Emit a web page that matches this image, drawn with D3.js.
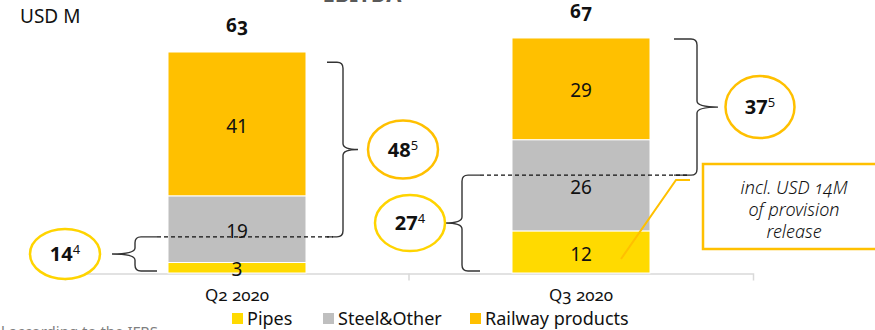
<!DOCTYPE html>
<html>
<head>
<meta charset="utf-8">
<script src="https://cdn.jsdelivr.net/npm/d3@7"></script>
<style>
  html, body { margin: 0; padding: 0; background: #fff; }
  svg { display: block; font-family: "Noto Sans", "Open Sans", sans-serif; }
  .onum { font-variant-numeric: oldstyle-nums; }
</style>
</head>
<body>
<svg id="chart" width="875" height="330"></svg>
<script>
// Quarterly revenue by segment, USD M
const categories = ["Q2 2020", "Q3 2020"];
const seriesNames = ["Pipes", "Steel&Other", "Railway products"];
const pipes = [3, 12];
const steelOther = [19, 26];
const railway = [41, 29];
const totals = [63, 67];

// EBITDA brackets: lower part / upper part, with footnote markers
const lowerEbitda = [14, 27];
const upperEbitda = [48, 37];
const lowerNote = ["4", "4"];
const upperNote = ["5", "5"];
// where each bracket pair splits, and where the upper bracket starts (USD M)
const splitAt = [10.3, 27.9];
const upperTop = [60.1, 66.7];

const colors = { "Pipes": "#FFDA00", "Steel&Other": "#BFBFBF", "Railway products": "#FFC000" };
const ringLower = "#FFD400";
const ringUpper = "#FFC000";

const svg = d3.select("#chart");

const x = d3.scaleBand().domain(categories).range([65, 753]).paddingInner(0).paddingOuter(0);
const y = d3.scaleLinear().domain([0, 70]).range([273, 27.45]);
const barW = 138;
const barX = c => x(c) + (x.bandwidth() - barW) / 2;

// stacked segments
const rows = categories.map((c, i) => ({ cat: c, "Pipes": pipes[i], "Steel&Other": steelOther[i], "Railway products": railway[i] }));
const stacked = d3.stack().keys(seriesNames)(rows);

// title above the plot (runs off the top edge)
svg.append("text").attr("x", 362).attr("y", 2).attr("text-anchor", "middle")
  .attr("font-size", 22).attr("font-weight", 700).attr("fill", "#595959").text("EBITDA");

// unit label
svg.append("text").attr("x", 20).attr("y", 23).attr("font-size", 19).attr("fill", "#111").text("USD M");

// axis
const axisG = svg.append("g").attr("transform", `translate(0,${y(0) + 0.5})`)
  .call(d3.axisBottom(x).tickSize(0).tickSizeOuter(7).tickPadding(15));
axisG.select(".domain").attr("stroke", "#D9D9D9").attr("stroke-width", 1.5);
axisG.selectAll(".tick text").attr("font-size", 17).attr("fill", "#111")
  .attr("font-family", "Noto Sans, sans-serif").classed("onum", true);
axisG.append("line").attr("x1", x(categories[1])).attr("x2", x(categories[1]))
  .attr("y1", 0).attr("y2", 7).attr("stroke", "#D9D9D9").attr("stroke-width", 1.5);

// bars
const seg = svg.append("g");
stacked.forEach(layer => {
  seg.selectAll(null).data(layer).join("rect")
    .attr("x", d => barX(d.data.cat))
    .attr("width", barW)
    .attr("y", d => y(d[1]))
    .attr("height", d => y(d[0]) - y(d[1]))
    .attr("fill", colors[layer.key])
    .attr("stroke", "#fff").attr("stroke-width", 1);
});

// segment values
stacked.forEach(layer => {
  seg.selectAll(null).data(layer).join("text")
    .attr("x", d => barX(d.data.cat) + barW / 2)
    .attr("y", d => (y(d[0]) + y(d[1])) / 2 + 2)
    .attr("dy", "0.35em")
    .attr("text-anchor", "middle")
    .attr("font-size", 19).attr("fill", "#111")
    .text(d => d[1] - d[0]);
});

// totals
svg.selectAll(".total").data(categories).join("text").attr("class", "total onum")
  .attr("x", c => barX(c) + barW / 2)
  .attr("y", (c, i) => y(totals[i]) - 20)
  .attr("text-anchor", "middle").attr("font-size", 19).attr("font-weight", 700).attr("fill", "#111")
  .text((c, i) => totals[i]);

// curly brace; dir = -1 points left, +1 points right
function bracePath(xv, y1, y2, dir, armLen, tipLen, r) {
  const ym = (y1 + y2) / 2;
  const xa = xv - dir * armLen;
  const xt = xv + dir * tipLen;
  return `M${xa},${y1} L${xv - dir * r},${y1} Q${xv},${y1} ${xv},${y1 + r}` +
    ` L${xv},${ym - r} Q${xv},${ym} ${xt},${ym} Q${xv},${ym} ${xv},${ym + r}` +
    ` L${xv},${y2 - r} Q${xv},${y2} ${xv - dir * r},${y2} L${xa},${y2}`;
}

const ann = svg.append("g");
const braceColor = "#333";

function ring(cx, cy, rx, ry, color, value, note) {
  ann.append("ellipse").attr("cx", cx).attr("cy", cy).attr("rx", rx).attr("ry", ry)
    .attr("fill", "#fff").attr("stroke", color).attr("stroke-width", 2.5);
  const t = ann.append("text").attr("x", cx).attr("y", cy + 7).attr("text-anchor", "middle").attr("fill", "#111");
  t.append("tspan").attr("font-size", 20).attr("font-weight", 700).text(value);
  t.append("tspan").attr("font-size", 13).attr("dy", -7).text(note);
}

categories.forEach((c, i) => {
  const left = barX(c), right = left + barW;
  const ySplit = y(splitAt[i]);
  const yTop = y(upperTop[i]);
  const yBot = y(0) - 2;

  // lower bracket on the left of the bar
  const lxv = left - (i === 0 ? 33 : 50);
  const lowerPath = i === 0
    ? bracePath(lxv, ySplit, yBot, -1, 22, 23, 6)
    : bracePath(lxv, ySplit, yBot, -1, 18, 17, 6);
  ann.append("path").attr("d", lowerPath).attr("fill", "none").attr("stroke", braceColor).attr("stroke-width", 1.4);

  // upper bracket on the right of the bar
  const rxv = right + (i === 0 ? 37 : 47);
  ann.append("path").attr("d", bracePath(rxv, yTop, ySplit, 1, i === 0 ? 16 : 23, i === 0 ? 15 : 21, 6))
    .attr("fill", "none").attr("stroke", braceColor).attr("stroke-width", 1.4);

  // dashed split line between the two brackets
  ann.append("line")
    .attr("x1", lxv + (i === 0 ? 22 : 18)).attr("x2", rxv - 10)
    .attr("y1", ySplit).attr("y2", ySplit)
    .attr("stroke", "#111").attr("stroke-width", 1.2).attr("stroke-dasharray", "4,3");

  // value rings
  const lowerMid = (ySplit + yBot) / 2;
  const upperMid = (yTop + ySplit) / 2;
  if (i === 0) {
    ring(lxv - 23 - 47, lowerMid, 35, 25, ringLower, lowerEbitda[i], lowerNote[i]);
    ring(rxv + 15 + 45, upperMid, 35, 29, ringUpper, upperEbitda[i], upperNote[i]);
  } else {
    ring(lxv - 17 - 35, lowerMid, 35, 28, ringLower, lowerEbitda[i], lowerNote[i]);
    ring(rxv + 21 + 42, upperMid, 34.5, 31, ringUpper, upperEbitda[i], upperNote[i]);
  }
});

// callout for the Q3 steel segment
{
  const c = categories[1];
  const right = barX(c) + barW;
  ann.append("polyline")
    .attr("points", `${right - 29},${y(4)} ${right + 26},${y(26.5)} ${right + 40},${y(26.5)}`)
    .attr("fill", "none").attr("stroke", "#FFC000").attr("stroke-width", 2);
  ann.append("rect").attr("x", 703).attr("y", 164).attr("width", 190).attr("height", 85)
    .attr("fill", "#fff").attr("stroke", "#FFC000").attr("stroke-width", 2.5);
  const lines = ["incl. USD 14M", "of provision", "release"];
  ann.selectAll(".callout").data(lines).join("text").attr("class", "callout onum")
    .attr("x", 794).attr("y", (d, k) => 194 + k * 22)
    .attr("text-anchor", "middle").attr("font-size", 18).attr("font-style", "italic")
    .attr("font-weight", 300).attr("fill", "#111").text(d => d);
}

// legend
const legendX = [232, 323, 470];
const lg = svg.append("g");
seriesNames.forEach((s, k) => {
  lg.append("rect").attr("x", legendX[k]).attr("y", 313).attr("width", 11).attr("height", 11).attr("fill", colors[s]);
  lg.append("text").attr("x", legendX[k] + 15).attr("y", 325).attr("font-size", 18).attr("fill", "#111").text(s);
});

// footnote (runs below the visible area)
svg.append("text").attr("x", 1).attr("y", 337).attr("font-size", 15).attr("fill", "#7F7F7F")
  .text("l according to the IFRS");
</script>
</body>
</html>
